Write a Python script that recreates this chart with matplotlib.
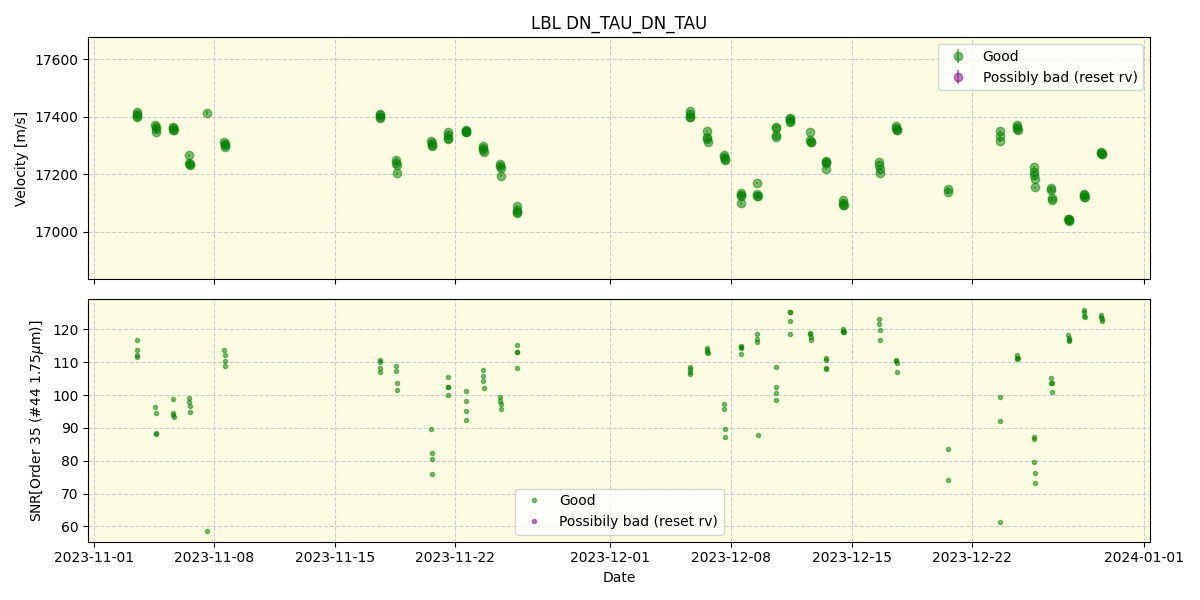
import matplotlib
matplotlib.use("Agg")
import matplotlib.pyplot as plt
import matplotlib.dates as mdates
import numpy as np
import pandas as pd

# ==============================
# DATA
# ==============================
night_start = [
    "2023-11-03 11:30", "2023-11-04 13:40", "2023-11-05 14:20", "2023-11-06 12:50",
    "2023-11-07 13:40", "2023-11-08 13:55", "2023-11-17 14:20", "2023-11-18 13:25",
    "2023-11-20 14:20", "2023-11-21 13:10", "2023-11-22 14:20", "2023-11-23 14:20",
    "2023-11-24 14:20", "2023-11-25 13:10", "2023-12-05 14:20", "2023-12-06 14:20",
    "2023-12-07 14:20", "2023-12-08 13:25", "2023-12-09 12:00", "2023-12-10 14:20",
    "2023-12-11 09:35", "2023-12-12 14:20", "2023-12-13 12:00", "2023-12-14 12:00",
    "2023-12-16 14:20", "2023-12-17 14:20", "2023-12-20 14:20", "2023-12-23 14:20",
    "2023-12-24 14:20", "2023-12-25 14:20", "2023-12-26 14:20", "2023-12-27 14:20",
    "2023-12-28 12:00", "2023-12-29 12:00",
]

rv_good = [
    [17415, 17408, 17403, 17400], [17372, 17365, 17356, 17348], [17365, 17360, 17355, 17352],
    [17265, 17240, 17235, 17230], [17413], [17312, 17305, 17300, 17295],
    [17410, 17405, 17400, 17396], [17250, 17240, 17232, 17203], [17315, 17308, 17302, 17298],
    [17345, 17335, 17325, 17322], [17355, 17350, 17347, 17345], [17298, 17292, 17285, 17276],
    [17235, 17229, 17222, 17194], [17088, 17075, 17068, 17065], [17420, 17410, 17400, 17397],
    [17349, 17330, 17322, 17313], [17265, 17259, 17252, 17250], [17135, 17128, 17122, 17098],
    [17168, 17132, 17125, 17122], [17365, 17360, 17335, 17330], [17395, 17390, 17385, 17380],
    [17345, 17318, 17313, 17310], [17245, 17241, 17238, 17218], [17110, 17098, 17094, 17092],
    [17241, 17230, 17218, 17203], [17368, 17362, 17355, 17352], [17148, 17136],
    [17349, 17331, 17316], [17372, 17365, 17358, 17353], [17224, 17206, 17195, 17183, 17154],
    [17150, 17145, 17115, 17110], [17045, 17042, 17040, 17038], [17130, 17126, 17120, 17119],
    [17278, 17274, 17271, 17270],
]

snr_good = [
    [116.7, 113.8, 112.3, 111.5], [96.3, 94.5, 88.4, 88.1], [98.7, 94.5, 93.9, 93.3],
    [99.1, 98.0, 96.8, 94.8], [58.7], [113.6, 112.3, 110.5, 109.0],
    [110.6, 110.0, 108.1, 106.9], [109.0, 107.2, 103.8, 101.4], [89.6, 82.3, 80.5, 76.0],
    [105.4, 102.6, 102.4, 99.9], [101.1, 98.1, 95.1, 92.3], [107.5, 105.7, 104.2, 102.3],
    [99.3, 98.2, 97.2, 95.7], [115.1, 113.2, 113.0, 108.1], [108.6, 107.9, 107.1, 106.3],
    [114.3, 113.6, 113.2, 112.9], [97.2, 95.7, 89.6, 87.2], [114.9, 114.4, 114.7, 112.6],
    [118.7, 117.0, 116.3, 87.8], [108.7, 102.6, 100.5, 98.4], [125.4, 125.2, 122.6, 118.7],
    [118.9, 118.5, 117.7, 116.9], [111.4, 110.8, 108.1, 107.8], [120.2, 119.4, 119.1, 119.3],
    [123.2, 121.5, 119.9, 116.9], [110.8, 110.3, 109.8, 106.9], [83.5, 74.0],
    [99.3, 92.0, 61.4], [112.1, 111.4, 110.9, 111.2], [87.3, 86.6, 79.6, 76.3, 73.2],
    [105.1, 103.8, 103.6, 100.8], [118.2, 117.4, 116.5, 116.9], [125.8, 125.3, 124.2, 123.9],
    [124.5, 123.7, 123.2, 122.6],
]

rv_err_night = [4, 5, 4, 5, 6, 4, 4, 5, 5, 4, 4, 4, 5, 4, 4, 4, 5, 4,
                4, 4, 3, 3, 4, 3, 3, 4, 6, 5, 4, 5, 4, 3, 3, 3]

EXP_GAP_MIN = 20  # minutes between exposures of the same night

# flatten per-night lists into per-exposure arrays
times, rv, rv_err, snr = [], [], [], []
for start, rvs, snrs, err in zip(night_start, rv_good, snr_good, rv_err_night):
    t0 = pd.Timestamp(start)
    for i, (v, s) in enumerate(zip(rvs, snrs)):
        times.append(t0 + pd.Timedelta(minutes=EXP_GAP_MIN * i))
        rv.append(v)
        rv_err.append(err)
        snr.append(s)
times = pd.to_datetime(times)

# ==============================
# PLOTTING
# ==============================
BG = "#fdfce2"
GRID = "#cbccd6"

fig, (ax1, ax2) = plt.subplots(2, 1, figsize=(12, 6), sharex=True)

ax1.errorbar(times, rv, yerr=rv_err, fmt="o", color="green", alpha=0.5, label="Good")
ax1.errorbar([], [], yerr=[], fmt="o", color="purple", alpha=0.5,
             label="Possibly bad (reset rv)")
ax1.set_ylim(16833, 17677)
ax1.set_ylabel("Velocity [m/s]")
ax1.set_title("LBL DN_TAU_DN_TAU")
ax1.legend(loc="upper right")

ax2.plot(times, snr, ".", color="green", alpha=0.5, label="Good")
ax2.plot([], [], ".", color="purple", alpha=0.5, label="Possibily bad (reset rv)")
ax2.set_ylabel(r"SNR[Order 35 (#44 1.75$\mu$m)]")
ax2.set_xlabel("Date")
ax2.legend(loc="lower center")

for ax in (ax1, ax2):
    ax.set_facecolor(BG)
    ax.grid(True, linestyle="--", color=GRID)

ax2.xaxis.set_major_formatter(mdates.DateFormatter("%Y-%m-%d"))

plt.tight_layout()
plt.savefig("out.png", dpi=100)
